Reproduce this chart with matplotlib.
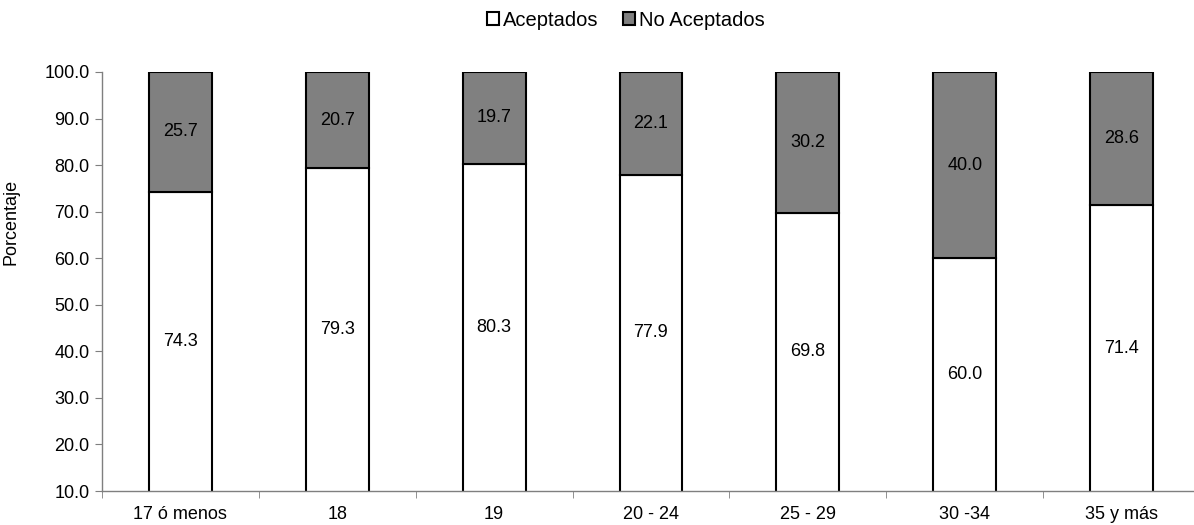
import numpy as np
import matplotlib.pyplot as plt
from matplotlib.ticker import FixedLocator

plt.rcParams['font.family'] = ['Liberation Sans', 'DejaVu Sans']

categorias = ['17 ó menos', '18', '19', '20 - 24', '25 - 29', '30 -34', '35 y más']
aceptados = [74.3, 79.3, 80.3, 77.9, 69.8, 60.0, 71.4]
no_aceptados = [25.7, 20.7, 19.7, 22.1, 30.2, 40.0, 28.6]

W, H = 1194, 525
fig = plt.figure(figsize=(W / 100, H / 100), dpi=100)
# plot area runs a bit past the right edge, like the cropped original
ax = fig.add_axes([102 / W, 1 - 491 / H, 1098 / W, 419 / H])

x = np.arange(len(categorias))
w = 0.40
ymin = 10
b1 = ax.bar(x, aceptados, w, color='white', edgecolor='black', linewidth=1.5, label='Aceptados')
b2 = ax.bar(x, no_aceptados, w, bottom=aceptados, color='#808080', edgecolor='black',
            linewidth=1.5, label='No Aceptados')

for i in range(len(categorias)):
    ax.text(x[i], ymin + (aceptados[i] - ymin) / 2, f'{aceptados[i]:.1f}',
            ha='center', va='center', fontsize=13)
    ax.text(x[i], aceptados[i] + no_aceptados[i] / 2, f'{no_aceptados[i]:.1f}',
            ha='center', va='center', fontsize=13)

ax.set_ylim(ymin, 100)
ax.set_xlim(-0.5, len(categorias) - 0.5)
yt = np.arange(10, 101, 10)
ax.set_yticks(yt)
ax.set_yticklabels([f'{v:.1f}' for v in yt], fontsize=13)
ax.set_xticks(x)
ax.set_xticklabels(categorias, fontsize=13)
ax.tick_params(axis='x', which='major', length=0, pad=11)
ax.xaxis.set_minor_locator(FixedLocator(np.arange(-0.5, len(categorias), 1)))
ax.tick_params(axis='x', which='minor', length=5, color='#7f7f7f')
ax.tick_params(axis='y', length=5, color='#7f7f7f', pad=4)
ax.set_ylabel('Porcentaje', fontsize=13)
ax.yaxis.set_label_coords(-0.0747, 0.642)

for s in ['top', 'right']:
    ax.spines[s].set_visible(False)
for s in ['left', 'bottom']:
    ax.spines[s].set_color('#7f7f7f')
    ax.spines[s].set_linewidth(1.0)

fig.legend(handles=[b1, b2], loc='center', bbox_to_anchor=(626 / W, 1 - 20 / H), ncol=2,
           frameon=False, fontsize=14.5, handlelength=0.6, handleheight=0.6,
           handletextpad=0.2, columnspacing=1.2, borderpad=0)

fig.savefig('out.png', dpi=100)
